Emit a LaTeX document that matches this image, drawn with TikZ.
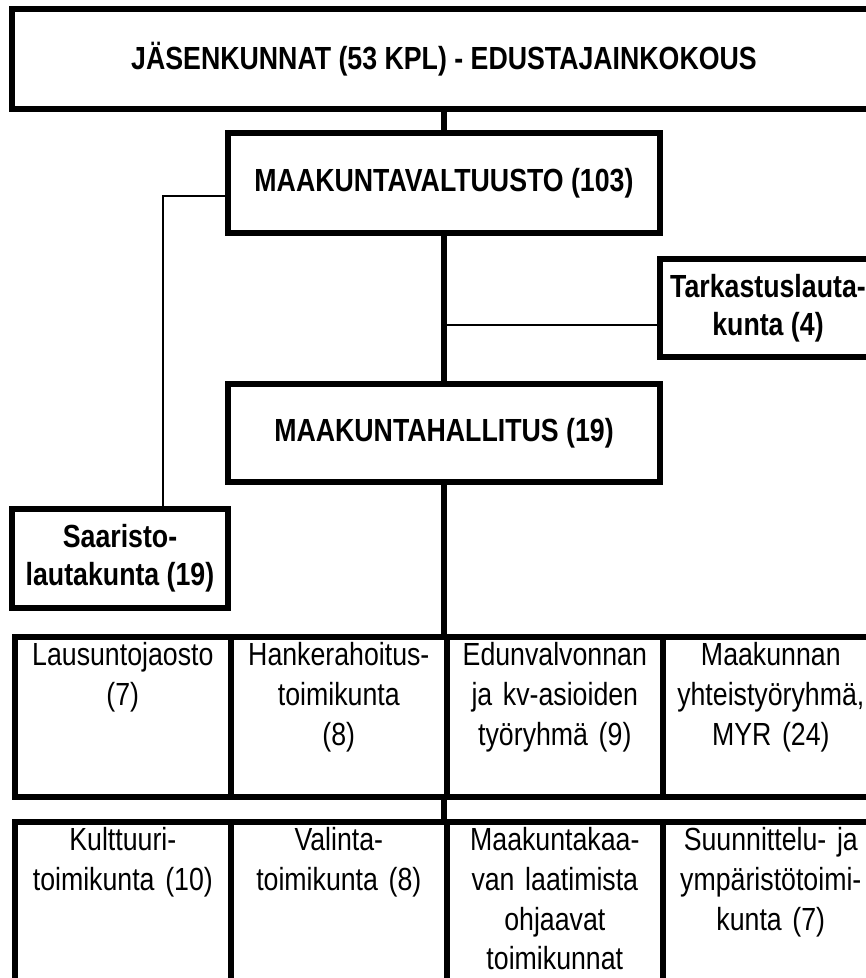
\documentclass[tikz,border=0pt]{standalone}
\usepackage{fontspec}
\setmainfont{Liberation Sans}[FakeStretch=0.835]
\usetikzlibrary{calc, positioning}

\begin{document}
\begin{tikzpicture}[x=0.01cm, y=-0.01cm,
    bigline/.style={line width=0.055cm},
    thinline/.style={line width=0.02cm},
    orgbox/.style={draw, bigline, rectangle, inner sep=0pt, align=center,
                   font=\fontsize{9.1}{10.9}\selectfont\bfseries},
    cell/.style={draw, bigline, rectangle, inner sep=0pt, anchor=north west,
                 minimum width=2.16cm, text width=2.08cm, align=center,
                 text height=0.29cm, text depth=#1,
                 font=\fontsize{9.1}{11.3}\selectfont}]
                    \useasboundingbox (0, 0) rectangle (866, 978);
                    \clip (0, 0) rectangle (866, 978);

                    \node[orgbox, minimum width=8.64cm, minimum height=0.995cm] (jasen) at (444, 59) {J\"ASENKUNNAT (53 KPL) - EDUSTAJAINKOKOUS};
                    \node[orgbox, minimum width=4.32cm, minimum height=1.00cm] (valt) at (444, 183) {MAAKUNTAVALTUUSTO (103)};
                    \node[orgbox, minimum width=2.16cm, minimum height=0.98cm] (tark) at (768, 308) {Tarkastuslauta-\\kunta (4)};
                    \node[orgbox, minimum width=4.32cm, minimum height=0.98cm] (hall) at (444, 433) {MAAKUNTAHALLITUS (19)};
                    \node[orgbox, minimum width=2.16cm, minimum height=0.99cm] (saar) at (120, 558.5) {Saaristo-\\lautakunta (19)};

                    % first row of sections
                    \node[cell=1.31cm] (laus) at (12, 634) {Lausuntojaosto\\(7)};
                    \node[cell=1.31cm] (hank) at (228, 634) {Hankerahoitus-\\toimikunta\\(8)};
                    \node[cell=1.31cm] (edun) at (444, 634) {Edunvalvonnan\\ja kv-asioiden\\ty\"oryhm\"a (9)};
                    \node[cell=1.31cm] (myr) at (660, 634) {Maakunnan\\yhteisty\"oryhm\"a,\\MYR (24)};

                    % second row
                    \node[cell=1.60cm] (kult) at (12, 819) {Kulttuuri-\\toimikunta (10)};
                    \node[cell=1.60cm] (vali) at (228, 819) {Valinta-\\toimikunta (8)};
                    \node[cell=1.60cm] (kaava) at (444, 819) {Maakuntakaa-\\van laatimista\\ohjaavat\\toimikunnat};
                    \node[cell=1.60cm] (suun) at (660, 819) {Suunnittelu- ja\\ymp\"arist\"otoimi-\\kunta (7)};

                    \coordinate (saarturn) at (163, 196);
                    \coordinate (tarkjoin) at (444, 325);

                    \draw[bigline]
                    (jasen.south) -- (valt.north)
                    (valt.south) -- (hall.north)
                    (hall.south) -- (edun.north west)
                    (edun.south west) -- (kaava.north west);

                    \draw[thinline]
                    (valt.west |- saarturn) -- (saarturn) -- (saarturn |- saar.north)
                    (tarkjoin) -- (tarkjoin -| tark.west);
                \end{tikzpicture}
\end{document}
